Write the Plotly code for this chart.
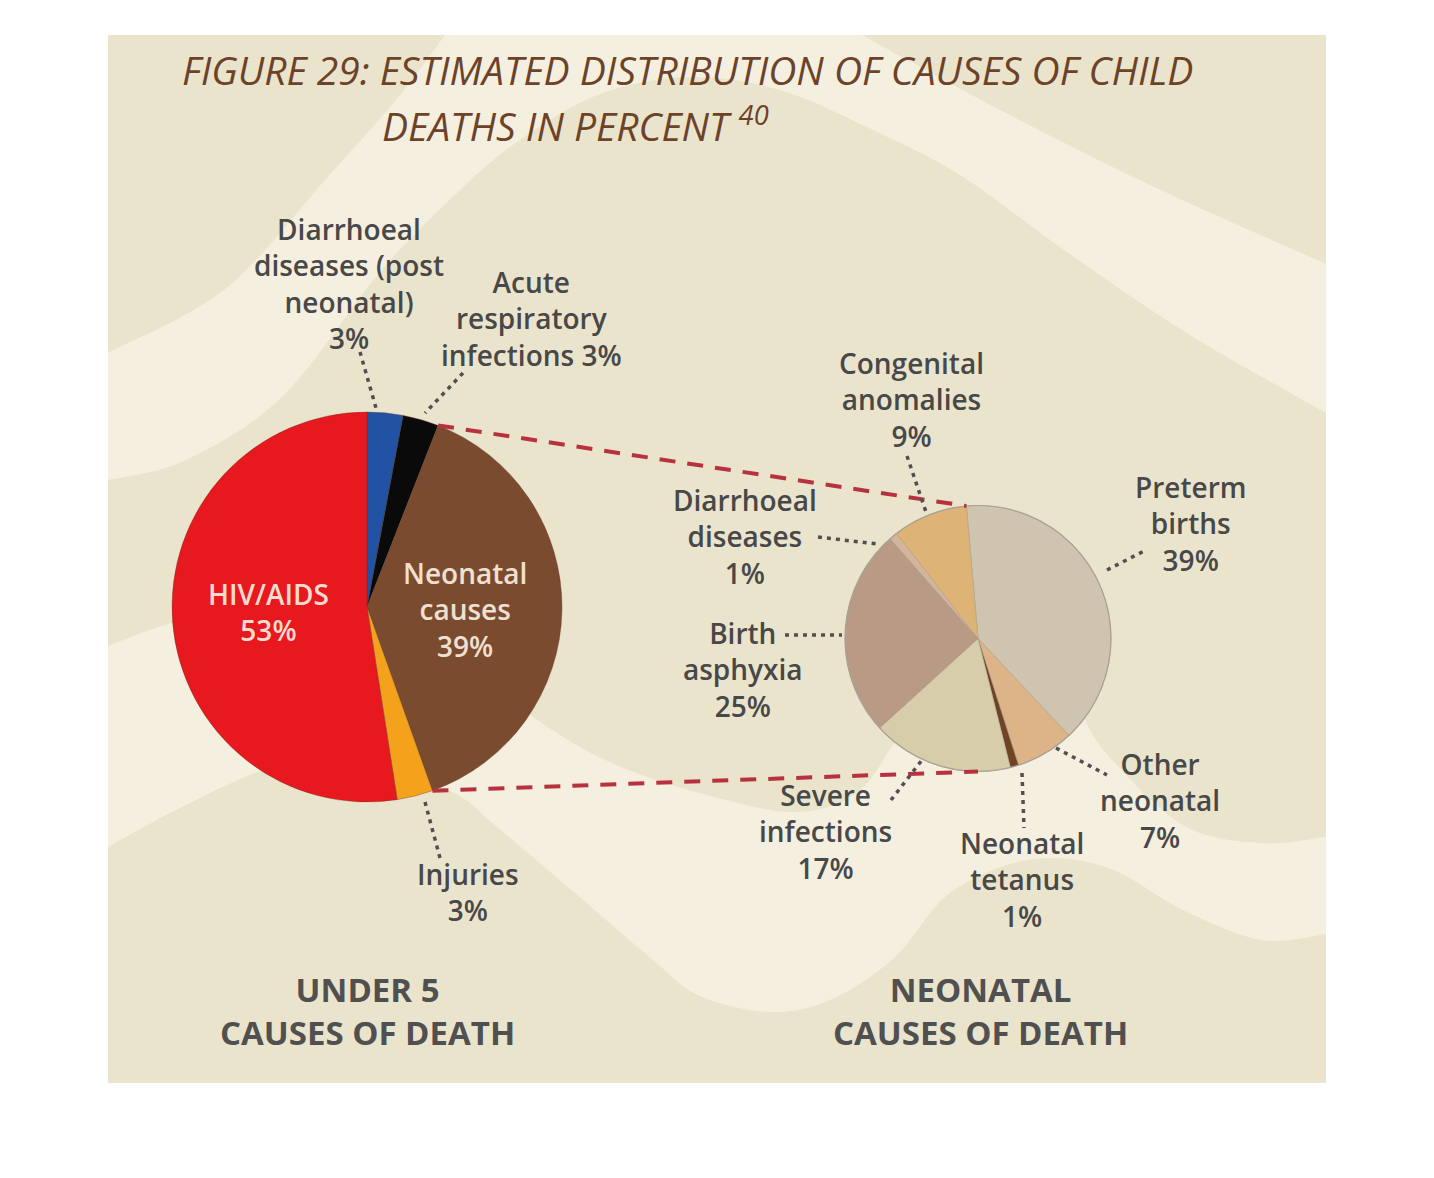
import math
import plotly.graph_objects as go

W, H = 1434, 1178          # browser window
OFF = 8                    # default page body margin
FW, FH = W - 2 * OFF, H - 2 * OFF

# ---------------- data ----------------
u5_labels = ["Diarrhoeal diseases (post neonatal)", "Acute respiratory infections",
             "Neonatal causes", "Injuries", "HIV/AIDS"]
u5_values = [3, 3, 39, 3, 53]
u5_colors = ["#2152a3", "#0a0a0a", "#7b4b30", "#f4a11b", "#e8181f"]

neo_labels = ["Preterm births", "Other neonatal", "Neonatal tetanus", "Severe infections",
              "Birth asphyxia", "Diarrhoeal diseases", "Congenital anomalies"]
neo_values = [39, 7, 1, 17, 25, 1, 9]
neo_colors = ["#cfc4b0", "#dcb488", "#6e4424", "#d7cdaa", "#b99a84", "#d4b59c", "#ddb475"]

title_line1 = "FIGURE 29: ESTIMATED DISTRIBUTION OF CAUSES OF CHILD"
title_line2 = "DEATHS IN PERCENT <sup>40</sup>"

# ---------------- layout constants (screen pixels) ----------------
L_CX, L_CY, L_R, L_ROT = 367, 607, 195, 0
R_CX, R_CY, R_R, R_ROT = 978, 638.5, 133, -5

BG_DARK = "#ebe4cc"
BG_LIGHT = "#f4efdf"
GRAY = "#484848"
FONT = "Open Sans"


def domain(cx, cy, r):
    return dict(x=[(cx - r - OFF) / FW, (cx + r - OFF) / FW],
                y=[1 - (cy + r - OFF) / FH, 1 - (cy - r - OFF) / FH])


def pt(cx, cy, r, ang):
    a = math.radians(ang)
    return cx + r * math.sin(a), cy - r * math.cos(a)


def curve(points):
    # open Catmull-Rom spline through points, as cubic bezier segments (starting at points[0])
    n = len(points)
    d = ""
    for i in range(n - 1):
        p0 = points[i - 1] if i > 0 else points[i]
        p1 = points[i]
        p2 = points[i + 1]
        p3 = points[i + 2] if i + 2 < n else p2
        c1 = (p1[0] + (p2[0] - p0[0]) / 6, p1[1] + (p2[1] - p0[1]) / 6)
        c2 = (p2[0] - (p3[0] - p1[0]) / 6, p2[1] - (p3[1] - p1[1]) / 6)
        d += "C %.1f,%.1f %.1f,%.1f %.1f,%.1f " % (c1[0], c1[1], c2[0], c2[1], p2[0], p2[1])
    return d


def band_path(*curves):
    d = "M %.1f,%.1f " % curves[0][0]
    for k, c in enumerate(curves):
        if k > 0:
            d += "L %.1f,%.1f " % c[0]
        d += curve(c)
    return d + "Z"


fig = go.Figure()

fig.add_trace(go.Pie(
    labels=u5_labels, values=u5_values, sort=False, direction="clockwise", rotation=L_ROT,
    marker=dict(colors=u5_colors, line=dict(color="rgba(90,55,40,0.35)", width=1)),
    textinfo="none", hoverinfo="skip", showlegend=False, domain=domain(L_CX, L_CY, L_R)))

fig.add_trace(go.Pie(
    labels=neo_labels, values=neo_values, sort=False, direction="clockwise", rotation=R_ROT,
    marker=dict(colors=neo_colors, line=dict(color="rgba(165,150,135,0.45)", width=1)),
    textinfo="none", hoverinfo="skip", showlegend=False, domain=domain(R_CX, R_CY, R_R)))

shapes = []
# panel background
shapes.append(dict(type="rect", x0=108, y0=35, x1=1326, y1=1083, xref="x", yref="y",
                   fillcolor=BG_DARK, line=dict(width=0), layer="below"))

# light decorative bands
b1_upper_left = [(108, 353), (225, 289), (326, 179), (400, 95), (445, 35)]
b1_upper_right = [(862, 35), (1000, 110), (1150, 185), (1326, 264)]
b1_lower = [(1326, 413), (1190, 335), (1067, 252), (960, 175), (873, 130), (780, 90),
            (690, 77), (600, 94), (520, 140), (458, 192), (380, 272), (283, 396),
            (186, 460), (108, 480)]
b2_upper = [(108, 646), (174, 622), (260, 602), (380, 618), (470, 665), (536, 719),
            (614, 764), (718, 798), (800, 812), (860, 790), (905, 730), (980, 665),
            (1060, 685), (1105, 752), (1183, 825), (1261, 843), (1326, 837)]
b2_lower = [(1326, 934), (1261, 940), (1183, 910), (1106, 867), (1028, 860), (950, 893),
            (894, 958), (830, 1000), (770, 1012), (700, 996), (653, 960), (575, 893),
            (497, 827), (458, 795), (400, 773), (330, 762), (264, 770), (180, 808),
            (108, 847)]
for p in (band_path(b1_upper_left, b1_upper_right, b1_lower), band_path(b2_upper, b2_lower)):
    shapes.append(dict(type="path", path=p, xref="x", yref="y",
                       fillcolor=BG_LIGHT, line=dict(width=0), layer="below"))

# outline ring for the neonatal pie
shapes.append(dict(type="circle", xref="x", yref="y", x0=R_CX - R_R, x1=R_CX + R_R,
                   y0=R_CY - R_R, y1=R_CY + R_R, line=dict(color="#aaa196", width=1.2),
                   layer="above"))

# red dashed connector lines derived from the pie geometry
tot = sum(u5_values)
a_start = L_ROT + 360 * sum(u5_values[:2]) / tot
a_end = L_ROT + 360 * sum(u5_values[:3]) / tot
p_top = pt(L_CX, L_CY, L_R, a_start)
p_bot = pt(L_CX, L_CY, L_R, a_end)
q_top = pt(R_CX, R_CY, R_R, R_ROT)
q_bot = pt(R_CX, R_CY, R_R, 180)
for (a, b) in ((p_top, q_top), (p_bot, q_bot)):
    shapes.append(dict(type="line", xref="x", yref="y", x0=a[0], y0=a[1], x1=b[0], y1=b[1],
                       line=dict(color="#b7323e", width=4, dash="16px,12px"), layer="above"))

# dotted leader lines
leaders = [((360, 352), (376, 408)), ((463, 373), (425, 413)), ((425, 802), (440, 858)),
           ((907, 456), (926, 512)), ((818, 537), (877, 544)), ((1107, 570), (1146, 550)),
           ((785, 635), (842, 635)), ((891, 800), (922, 760)), ((1022, 773), (1024, 828)),
           ((1056, 748), (1107, 775))]
for a, b in leaders:
    shapes.append(dict(type="line", xref="x", yref="y", x0=a[0], y0=a[1], x1=b[0], y1=b[1],
                       line=dict(color="#505050", width=3.5, dash="4px,5px"), layer="above"))

annotations = []


def block(lines, x, yc, size=28, color=GRAY, weight=600):
    annotations.append(dict(x=x, y=yc, xref="x", yref="y", text="<br>".join(lines),
                            showarrow=False, xanchor="center", yanchor="middle", align="center",
                            font=dict(family=FONT, size=size, color=color, weight=weight)))


block(["Diarrhoeal", "diseases (post", "neonatal)", "3%"], 349, 283)
block(["Acute", "respiratory", "infections 3%"], 531, 318)
block(["Injuries", "3%"], 468, 892)
block(["HIV/AIDS", "53%"], 268, 612, color="#f8dccf")
block(["Neonatal", "causes", "39%"], 465, 609, color="#efe0d0")
block(["Congenital", "anomalies", "9%"], 911, 399)
block(["Diarrhoeal", "diseases", "1%"], 745, 536)
block(["Preterm", "births", "39%"], 1190, 523)
block(["Birth", "asphyxia", "25%"], 743, 669)
block(["Severe", "infections", "17%"], 825, 831)
block(["Neonatal", "tetanus", "1%"], 1022, 879)
block(["Other", "neonatal", "7%"], 1160, 800)
block(["UNDER 5", "CAUSES OF DEATH"], 367, 1011, size=33, color="#505050", weight=700)
block(["NEONATAL", "CAUSES OF DEATH"], 980, 1011, size=33, color="#505050", weight=700)

annotations.append(dict(x=180, y=69, xref="x", yref="y", text=title_line1, showarrow=False,
                        xanchor="left", yanchor="middle",
                        font=dict(family=FONT, size=39, color="#6c4329", style="italic")))
annotations.append(dict(x=380, y=124, xref="x", yref="y", text=title_line2, showarrow=False,
                        xanchor="left", yanchor="middle",
                        font=dict(family=FONT, size=39, color="#6c4329", style="italic")))

fig.update_layout(
    width=FW, height=FH, margin=dict(l=0, r=0, t=0, b=0),
    paper_bgcolor="white", plot_bgcolor="rgba(0,0,0,0)",
    xaxis=dict(range=[OFF, OFF + FW], visible=False, fixedrange=True),
    yaxis=dict(range=[OFF + FH, OFF], visible=False, fixedrange=True),
    shapes=shapes, annotations=annotations, showlegend=False,
)

fig.write_html("out.html")
